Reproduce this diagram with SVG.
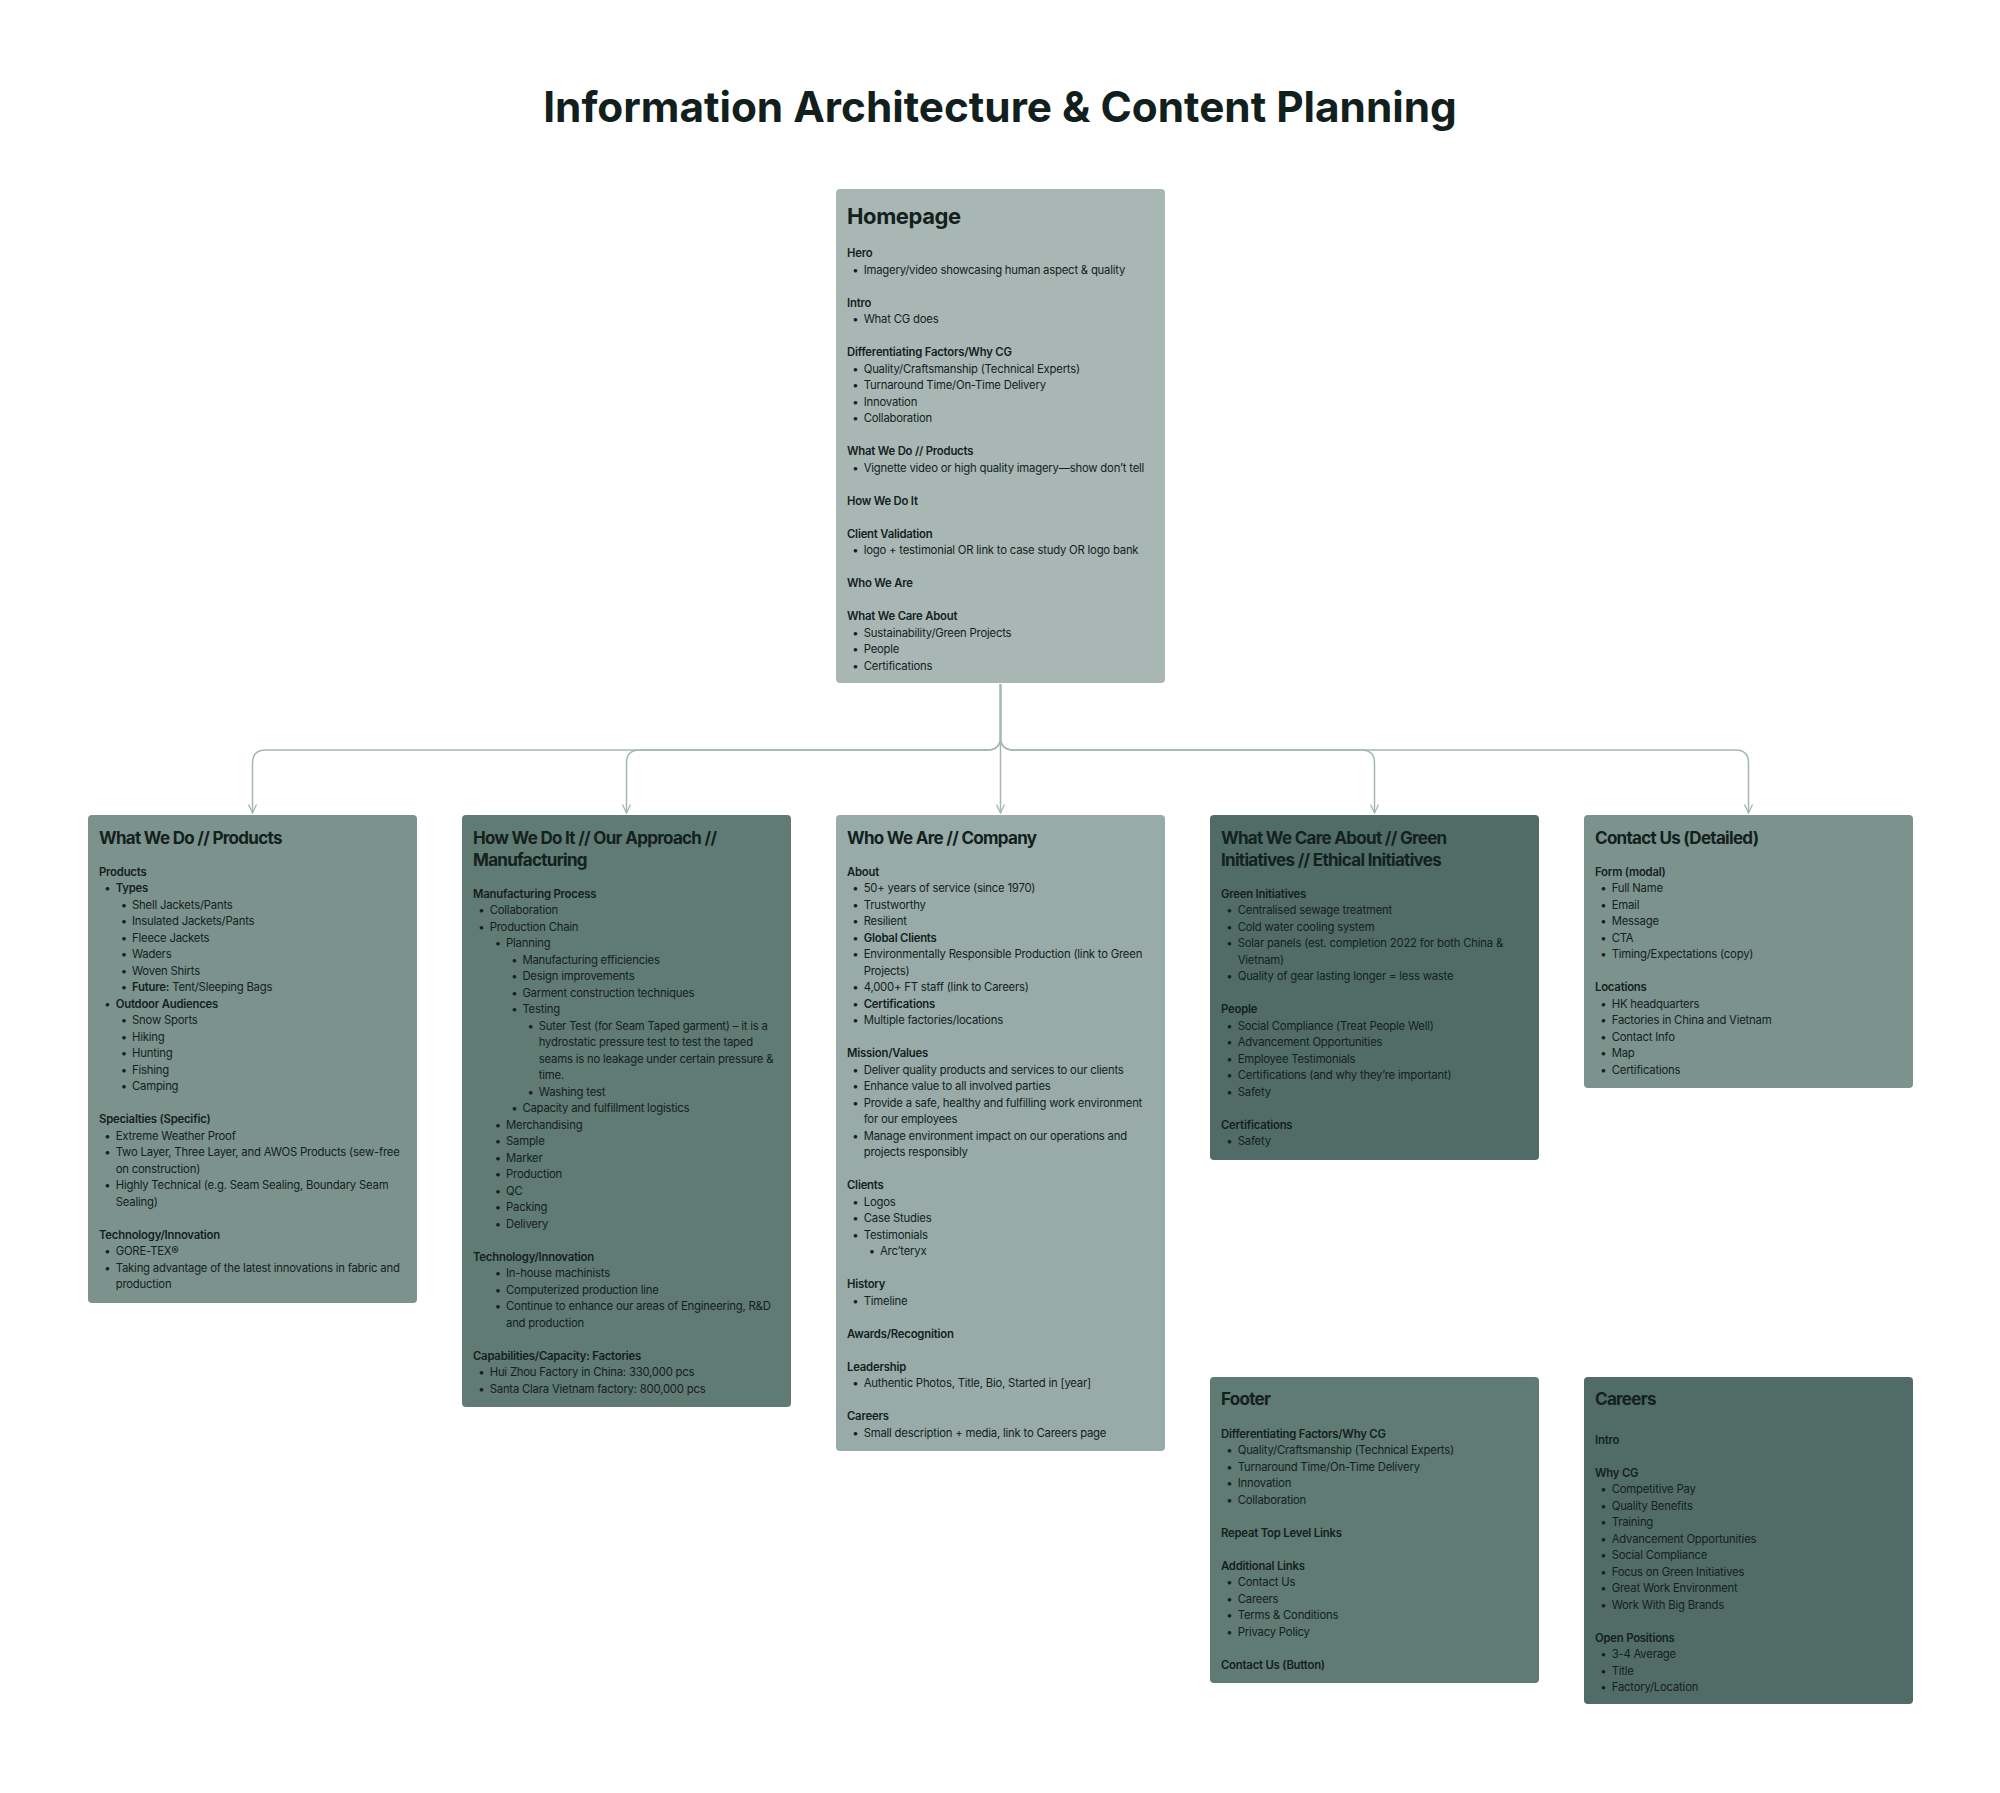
<svg xmlns="http://www.w3.org/2000/svg" width="2000" height="1793" viewBox="0 0 2000 1793">
<defs>
<style>
text{font-family:Inter,"Noto Sans","Liberation Sans",sans-serif;fill:#13211d}
.title{font-size:42.3px;font-weight:700;text-anchor:middle;fill:#11201c}
.ht{font-size:22px;font-weight:700;letter-spacing:-0.4px}
.h{font-size:17px;font-weight:700;letter-spacing:-0.7px}
.s{font-size:11.3px;font-weight:600;letter-spacing:-0.2px}
.b{font-size:11.3px;font-weight:400;letter-spacing:-0.2px}
.bb{font-size:11.3px;font-weight:600;letter-spacing:-0.2px}
.d{font-size:11.3px;text-anchor:middle}
.box{stroke:none}
.conn{fill:none;stroke:#a6b6b3;stroke-width:1.5}
</style>
<marker id="arr" viewBox="0 0 10 10" refX="9.5" refY="5" markerWidth="10" markerHeight="10" markerUnits="userSpaceOnUse" orient="auto">
<path d="M1,1 L9.5,5 L1,9" fill="none" stroke="#a6b6b3" stroke-width="1.3"/>
</marker>
</defs>
<rect width="2000" height="1793" fill="#ffffff"/>
<text class="title" x="1000" y="122">Information Architecture &amp; Content Planning</text>

<g id="connectors">
<path class="conn" d="M1000.5 684 V737 Q1000.5 750 987.5 750 H265.5 Q252.5 750 252.5 763 V813" marker-end="url(#arr)"/>
<path class="conn" d="M1000.5 684 V737 Q1000.5 750 987.5 750 H639.5 Q626.5 750 626.5 763 V813" marker-end="url(#arr)"/>
<path class="conn" d="M1000.5 684 V813" marker-end="url(#arr)"/>
<path class="conn" d="M1000.5 684 V737 Q1000.5 750 1013.5 750 H1361.5 Q1374.5 750 1374.5 763 V813" marker-end="url(#arr)"/>
<path class="conn" d="M1000.5 684 V737 Q1000.5 750 1013.5 750 H1735.5 Q1748.5 750 1748.5 763 V813" marker-end="url(#arr)"/>
</g>

<g id="homepage">
<rect class="box" x="836" y="189" width="329" height="494" rx="4" fill="#a8b7b4"/>
<text class="ht" x="847" y="224">Homepage</text>
<text class="s" x="847" y="257">Hero</text>
<text class="d" x="855.5" y="273.5">•</text><text class="b" x="863.7" y="273.5">Imagery/video showcasing human aspect &amp; quality</text>
<text class="s" x="847" y="306.5">Intro</text>
<text class="d" x="855.5" y="323">•</text><text class="b" x="863.7" y="323">What CG does</text>
<text class="s" x="847" y="356">Differentiating Factors/Why CG</text>
<text class="d" x="855.5" y="372.5">•</text><text class="b" x="863.7" y="372.5">Quality/Craftsmanship (Technical Experts)</text>
<text class="d" x="855.5" y="389">•</text><text class="b" x="863.7" y="389">Turnaround Time/On-Time Delivery</text>
<text class="d" x="855.5" y="405.5">•</text><text class="b" x="863.7" y="405.5">Innovation</text>
<text class="d" x="855.5" y="422">•</text><text class="b" x="863.7" y="422">Collaboration</text>
<text class="s" x="847" y="455">What We Do // Products</text>
<text class="d" x="855.5" y="471.5">•</text><text class="b" x="863.7" y="471.5">Vignette video or high quality imagery—show don’t tell</text>
<text class="s" x="847" y="504.5">How We Do It</text>
<text class="s" x="847" y="537.5">Client Validation</text>
<text class="d" x="855.5" y="554">•</text><text class="b" x="863.7" y="554">logo + testimonial OR link to case study OR logo bank</text>
<text class="s" x="847" y="587">Who We Are</text>
<text class="s" x="847" y="620">What We Care About</text>
<text class="d" x="855.5" y="636.5">•</text><text class="b" x="863.7" y="636.5">Sustainability/Green Projects</text>
<text class="d" x="855.5" y="653">•</text><text class="b" x="863.7" y="653">People</text>
<text class="d" x="855.5" y="669.5">•</text><text class="b" x="863.7" y="669.5">Certifications</text>
</g>

<g id="products">
<rect class="box" x="88" y="815" width="329" height="488" rx="4" fill="#7c928d"/>
<text class="h" x="99" y="844">What We Do // Products</text>
<text class="s" x="99" y="875.5">Products</text>
<text class="d" x="107.5" y="892">•</text><text class="bb" x="115.7" y="892">Types</text>
<text class="d" x="124" y="908.5">•</text><text class="b" x="132" y="908.5">Shell Jackets/Pants</text>
<text class="d" x="124" y="925">•</text><text class="b" x="132" y="925">Insulated Jackets/Pants</text>
<text class="d" x="124" y="941.5">•</text><text class="b" x="132" y="941.5">Fleece Jackets</text>
<text class="d" x="124" y="958">•</text><text class="b" x="132" y="958">Waders</text>
<text class="d" x="124" y="974.5">•</text><text class="b" x="132" y="974.5">Woven Shirts</text>
<text class="d" x="124" y="991">•</text><text class="b" x="132" y="991"><tspan font-weight="600">Future:</tspan> Tent/Sleeping Bags</text>
<text class="d" x="107.5" y="1007.5">•</text><text class="bb" x="115.7" y="1007.5">Outdoor Audiences</text>
<text class="d" x="124" y="1024">•</text><text class="b" x="132" y="1024">Snow Sports</text>
<text class="d" x="124" y="1040.5">•</text><text class="b" x="132" y="1040.5">Hiking</text>
<text class="d" x="124" y="1057">•</text><text class="b" x="132" y="1057">Hunting</text>
<text class="d" x="124" y="1073.5">•</text><text class="b" x="132" y="1073.5">Fishing</text>
<text class="d" x="124" y="1090">•</text><text class="b" x="132" y="1090">Camping</text>
<text class="s" x="99" y="1123">Specialties (Specific)</text>
<text class="d" x="107.5" y="1139.5">•</text><text class="b" x="115.7" y="1139.5">Extreme Weather Proof</text>
<text class="d" x="107.5" y="1156">•</text><text class="b" x="115.7" y="1156">Two Layer, Three Layer, and AWOS Products (sew-free</text>
<text class="b" x="115.7" y="1172.5">on construction)</text>
<text class="d" x="107.5" y="1189">•</text><text class="b" x="115.7" y="1189">Highly Technical (e.g. Seam Sealing, Boundary Seam</text>
<text class="b" x="115.7" y="1205.5">Sealing)</text>
<text class="s" x="99" y="1238.5">Technology/Innovation</text>
<text class="d" x="107.5" y="1255">•</text><text class="b" x="115.7" y="1255">GORE-TEX®</text>
<text class="d" x="107.5" y="1271.5">•</text><text class="b" x="115.7" y="1271.5">Taking advantage of the latest innovations in fabric and</text>
<text class="b" x="115.7" y="1288">production</text>
</g>

<g id="how-we-do-it">
<rect class="box" x="462" y="815" width="329" height="592" rx="4" fill="#607a74"/>
<text class="h" x="473" y="844">How We Do It // Our Approach //</text>
<text class="h" x="473" y="865.5">Manufacturing</text>
<text class="s" x="473" y="897.5">Manufacturing Process</text>
<text class="d" x="481.5" y="914">•</text><text class="b" x="489.7" y="914">Collaboration</text>
<text class="d" x="481.5" y="930.5">•</text><text class="b" x="489.7" y="930.5">Production Chain</text>
<text class="d" x="498" y="947">•</text><text class="b" x="506" y="947">Planning</text>
<text class="d" x="514.4" y="963.5">•</text><text class="b" x="522.4" y="963.5">Manufacturing efficiencies</text>
<text class="d" x="514.4" y="980">•</text><text class="b" x="522.4" y="980">Design improvements</text>
<text class="d" x="514.4" y="996.5">•</text><text class="b" x="522.4" y="996.5">Garment construction techniques</text>
<text class="d" x="514.4" y="1013">•</text><text class="b" x="522.4" y="1013">Testing</text>
<text class="d" x="530.8" y="1029.5">•</text><text class="b" x="538.8" y="1029.5">Suter Test (for Seam Taped garment) – it is a</text>
<text class="b" x="538.8" y="1046">hydrostatic pressure test to test the taped</text>
<text class="b" x="538.8" y="1062.5">seams is no leakage under certain pressure &amp;</text>
<text class="b" x="538.8" y="1079">time.</text>
<text class="d" x="530.8" y="1095.5">•</text><text class="b" x="538.8" y="1095.5">Washing test</text>
<text class="d" x="514.4" y="1112">•</text><text class="b" x="522.4" y="1112">Capacity and fulfillment logistics</text>
<text class="d" x="498" y="1128.5">•</text><text class="b" x="506" y="1128.5">Merchandising</text>
<text class="d" x="498" y="1145">•</text><text class="b" x="506" y="1145">Sample</text>
<text class="d" x="498" y="1161.5">•</text><text class="b" x="506" y="1161.5">Marker</text>
<text class="d" x="498" y="1178">•</text><text class="b" x="506" y="1178">Production</text>
<text class="d" x="498" y="1194.5">•</text><text class="b" x="506" y="1194.5">QC</text>
<text class="d" x="498" y="1211">•</text><text class="b" x="506" y="1211">Packing</text>
<text class="d" x="498" y="1227.5">•</text><text class="b" x="506" y="1227.5">Delivery</text>
<text class="s" x="473" y="1260.5">Technology/Innovation</text>
<text class="d" x="498" y="1277">•</text><text class="b" x="506" y="1277">In-house machinists</text>
<text class="d" x="498" y="1293.5">•</text><text class="b" x="506" y="1293.5">Computerized production line</text>
<text class="d" x="498" y="1310">•</text><text class="b" x="506" y="1310">Continue to enhance our areas of Engineering, R&amp;D</text>
<text class="b" x="506" y="1326.5">and production</text>
<text class="s" x="473" y="1359.5">Capabilities/Capacity: Factories</text>
<text class="d" x="481.5" y="1376">•</text><text class="b" x="489.7" y="1376">Hui Zhou Factory in China: 330,000 pcs</text>
<text class="d" x="481.5" y="1392.5">•</text><text class="b" x="489.7" y="1392.5">Santa Clara Vietnam factory: 800,000 pcs</text>
</g>

<g id="who-we-are">
<rect class="box" x="836" y="815" width="329" height="636" rx="4" fill="#98aba8"/>
<text class="h" x="847" y="844">Who We Are // Company</text>
<text class="s" x="847" y="875.5">About</text>
<text class="d" x="855.5" y="892">•</text><text class="b" x="863.7" y="892">50+ years of service (since 1970)</text>
<text class="d" x="855.5" y="908.5">•</text><text class="b" x="863.7" y="908.5">Trustworthy</text>
<text class="d" x="855.5" y="925">•</text><text class="b" x="863.7" y="925">Resilient</text>
<text class="d" x="855.5" y="941.5">•</text><text class="bb" x="863.7" y="941.5">Global Clients</text>
<text class="d" x="855.5" y="958">•</text><text class="b" x="863.7" y="958">Environmentally Responsible Production (link to Green</text>
<text class="b" x="863.7" y="974.5">Projects)</text>
<text class="d" x="855.5" y="991">•</text><text class="b" x="863.7" y="991">4,000+ FT staff (link to Careers)</text>
<text class="d" x="855.5" y="1007.5">•</text><text class="bb" x="863.7" y="1007.5">Certifications</text>
<text class="d" x="855.5" y="1024">•</text><text class="b" x="863.7" y="1024">Multiple factories/locations</text>
<text class="s" x="847" y="1057">Mission/Values</text>
<text class="d" x="855.5" y="1073.5">•</text><text class="b" x="863.7" y="1073.5">Deliver quality products and services to our clients</text>
<text class="d" x="855.5" y="1090">•</text><text class="b" x="863.7" y="1090">Enhance value to all involved parties</text>
<text class="d" x="855.5" y="1106.5">•</text><text class="b" x="863.7" y="1106.5">Provide a safe, healthy and fulfilling work environment</text>
<text class="b" x="863.7" y="1123">for our employees</text>
<text class="d" x="855.5" y="1139.5">•</text><text class="b" x="863.7" y="1139.5">Manage environment impact on our operations and</text>
<text class="b" x="863.7" y="1156">projects responsibly</text>
<text class="s" x="847" y="1189">Clients</text>
<text class="d" x="855.5" y="1205.5">•</text><text class="b" x="863.7" y="1205.5">Logos</text>
<text class="d" x="855.5" y="1222">•</text><text class="b" x="863.7" y="1222">Case Studies</text>
<text class="d" x="855.5" y="1238.5">•</text><text class="b" x="863.7" y="1238.5">Testimonials</text>
<text class="d" x="872" y="1255">•</text><text class="b" x="880" y="1255">Arc’teryx</text>
<text class="s" x="847" y="1288">History</text>
<text class="d" x="855.5" y="1304.5">•</text><text class="b" x="863.7" y="1304.5">Timeline</text>
<text class="s" x="847" y="1337.5">Awards/Recognition</text>
<text class="s" x="847" y="1370.5">Leadership</text>
<text class="d" x="855.5" y="1387">•</text><text class="b" x="863.7" y="1387">Authentic Photos, Title, Bio, Started in [year]</text>
<text class="s" x="847" y="1420">Careers</text>
<text class="d" x="855.5" y="1436.5">•</text><text class="b" x="863.7" y="1436.5">Small description + media, link to Careers page</text>
</g>

<g id="what-we-care-about">
<rect class="box" x="1210" y="815" width="329" height="345" rx="4" fill="#516c66"/>
<text class="h" x="1221" y="844">What We Care About // Green</text>
<text class="h" x="1221" y="865.5">Initiatives // Ethical Initiatives</text>
<text class="s" x="1221" y="897.5">Green Initiatives</text>
<text class="d" x="1229.5" y="914">•</text><text class="b" x="1237.7" y="914">Centralised sewage treatment</text>
<text class="d" x="1229.5" y="930.5">•</text><text class="b" x="1237.7" y="930.5">Cold water cooling system</text>
<text class="d" x="1229.5" y="947">•</text><text class="b" x="1237.7" y="947">Solar panels (est. completion 2022 for both China &amp;</text>
<text class="b" x="1237.7" y="963.5">Vietnam)</text>
<text class="d" x="1229.5" y="980">•</text><text class="b" x="1237.7" y="980">Quality of gear lasting longer = less waste</text>
<text class="s" x="1221" y="1013">People</text>
<text class="d" x="1229.5" y="1029.5">•</text><text class="b" x="1237.7" y="1029.5">Social Compliance (Treat People Well)</text>
<text class="d" x="1229.5" y="1046">•</text><text class="b" x="1237.7" y="1046">Advancement Opportunities</text>
<text class="d" x="1229.5" y="1062.5">•</text><text class="b" x="1237.7" y="1062.5">Employee Testimonials</text>
<text class="d" x="1229.5" y="1079">•</text><text class="b" x="1237.7" y="1079">Certifications (and why they’re important)</text>
<text class="d" x="1229.5" y="1095.5">•</text><text class="b" x="1237.7" y="1095.5">Safety</text>
<text class="s" x="1221" y="1128.5">Certifications</text>
<text class="d" x="1229.5" y="1145">•</text><text class="b" x="1237.7" y="1145">Safety</text>
</g>

<g id="contact-us">
<rect class="box" x="1584" y="815" width="329" height="273" rx="4" fill="#7c928d"/>
<text class="h" x="1595" y="844">Contact Us (Detailed)</text>
<text class="s" x="1595" y="875.5">Form (modal)</text>
<text class="d" x="1603.5" y="892">•</text><text class="b" x="1611.7" y="892">Full Name</text>
<text class="d" x="1603.5" y="908.5">•</text><text class="b" x="1611.7" y="908.5">Email</text>
<text class="d" x="1603.5" y="925">•</text><text class="b" x="1611.7" y="925">Message</text>
<text class="d" x="1603.5" y="941.5">•</text><text class="b" x="1611.7" y="941.5">CTA</text>
<text class="d" x="1603.5" y="958">•</text><text class="b" x="1611.7" y="958">Timing/Expectations (copy)</text>
<text class="s" x="1595" y="991">Locations</text>
<text class="d" x="1603.5" y="1007.5">•</text><text class="b" x="1611.7" y="1007.5">HK headquarters</text>
<text class="d" x="1603.5" y="1024">•</text><text class="b" x="1611.7" y="1024">Factories in China and Vietnam</text>
<text class="d" x="1603.5" y="1040.5">•</text><text class="b" x="1611.7" y="1040.5">Contact Info</text>
<text class="d" x="1603.5" y="1057">•</text><text class="b" x="1611.7" y="1057">Map</text>
<text class="d" x="1603.5" y="1073.5">•</text><text class="b" x="1611.7" y="1073.5">Certifications</text>
</g>

<g id="footer">
<rect class="box" x="1210" y="1377" width="329" height="306" rx="4" fill="#607a74"/>
<text class="h" x="1221" y="1405">Footer</text>
<text class="s" x="1221" y="1437.5">Differentiating Factors/Why CG</text>
<text class="d" x="1229.5" y="1454">•</text><text class="b" x="1237.7" y="1454">Quality/Craftsmanship (Technical Experts)</text>
<text class="d" x="1229.5" y="1470.5">•</text><text class="b" x="1237.7" y="1470.5">Turnaround Time/On-Time Delivery</text>
<text class="d" x="1229.5" y="1487">•</text><text class="b" x="1237.7" y="1487">Innovation</text>
<text class="d" x="1229.5" y="1503.5">•</text><text class="b" x="1237.7" y="1503.5">Collaboration</text>
<text class="s" x="1221" y="1536.5">Repeat Top Level Links</text>
<text class="s" x="1221" y="1569.5">Additional Links</text>
<text class="d" x="1229.5" y="1586">•</text><text class="b" x="1237.7" y="1586">Contact Us</text>
<text class="d" x="1229.5" y="1602.5">•</text><text class="b" x="1237.7" y="1602.5">Careers</text>
<text class="d" x="1229.5" y="1619">•</text><text class="b" x="1237.7" y="1619">Terms &amp; Conditions</text>
<text class="d" x="1229.5" y="1635.5">•</text><text class="b" x="1237.7" y="1635.5">Privacy Policy</text>
<text class="s" x="1221" y="1668.5">Contact Us (Button)</text>
</g>

<g id="careers">
<rect class="box" x="1584" y="1377" width="329" height="327" rx="4" fill="#516c66"/>
<text class="h" x="1595" y="1405">Careers</text>
<text class="s" x="1595" y="1443.5">Intro</text>
<text class="s" x="1595" y="1476.5">Why CG</text>
<text class="d" x="1603.5" y="1493">•</text><text class="b" x="1611.7" y="1493">Competitive Pay</text>
<text class="d" x="1603.5" y="1509.5">•</text><text class="b" x="1611.7" y="1509.5">Quality Benefits</text>
<text class="d" x="1603.5" y="1526">•</text><text class="b" x="1611.7" y="1526">Training</text>
<text class="d" x="1603.5" y="1542.5">•</text><text class="b" x="1611.7" y="1542.5">Advancement Opportunities</text>
<text class="d" x="1603.5" y="1559">•</text><text class="b" x="1611.7" y="1559">Social Compliance</text>
<text class="d" x="1603.5" y="1575.5">•</text><text class="b" x="1611.7" y="1575.5">Focus on Green Initiatives</text>
<text class="d" x="1603.5" y="1592">•</text><text class="b" x="1611.7" y="1592">Great Work Environment</text>
<text class="d" x="1603.5" y="1608.5">•</text><text class="b" x="1611.7" y="1608.5">Work With Big Brands</text>
<text class="s" x="1595" y="1641.5">Open Positions</text>
<text class="d" x="1603.5" y="1658">•</text><text class="b" x="1611.7" y="1658">3-4 Average</text>
<text class="d" x="1603.5" y="1674.5">•</text><text class="b" x="1611.7" y="1674.5">Title</text>
<text class="d" x="1603.5" y="1691">•</text><text class="b" x="1611.7" y="1691">Factory/Location</text>
</g>
</svg>
